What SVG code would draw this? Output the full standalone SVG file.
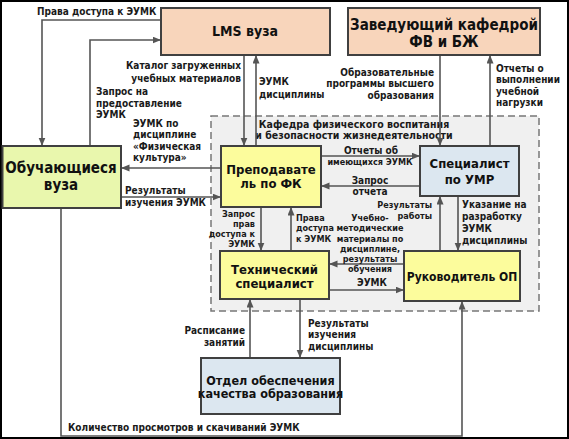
<svg xmlns="http://www.w3.org/2000/svg" width="569" height="439" viewBox="0 0 569 439">
<style>
.frame{fill:#ffffff;stroke:#000;stroke-width:2}
.box{stroke:#404040;stroke-width:2}
.peach{fill:#f8d5bb}
.green{fill:#e9f7ad}
.yellow{fill:#fcfc9c}
.blue{fill:#dce7f0}
.area{fill:#f0f0f0;stroke:#777;stroke-width:1.5;stroke-dasharray:7 4}
.c{fill:none;stroke:#555;stroke-width:1.6;marker-end:url(#a)}
text{font-family:"DejaVu Sans Condensed","DejaVu Sans",sans-serif;font-stretch:condensed;font-weight:bold;fill:#1a1a1a}
.l{font-size:10px}
.s{font-size:9px}
.h{font-size:10.5px;text-anchor:middle}
.t{font-size:13px;fill:#111;text-anchor:middle}
.e{text-anchor:end}
.m{text-anchor:middle}
</style>
<defs>
<marker id="a" markerUnits="userSpaceOnUse" markerWidth="9" markerHeight="8" refX="8.5" refY="3.5" orient="auto">
<path d="M0,0 L8.5,3.5 L0,7 z" fill="#555"/>
</marker>
</defs>
<rect class="frame" x="1" y="1" width="567" height="437"/>
<rect class="area" x="211" y="116" width="328" height="195"/>
<text class="h" x="354" y="127.5">Кафедра физического воспитания</text>
<text class="h" x="354" y="139">и безопасности жизнедеятельности</text>

<g id="connectors">
<path class="c" d="M161,20 H42 V146"/>
<path class="c" d="M90,146 V40 H161"/>
<path class="c" d="M244,55 V146"/>
<path class="c" d="M256,146 V55"/>
<path class="c" d="M221,168 H121"/>
<path class="c" d="M121,197 H221"/>
<path class="c" d="M440,55 V146"/>
<path class="c" d="M490,146 V55"/>
<path class="c" d="M321,156 H420"/>
<path class="c" d="M420,186 H321"/>
<path class="c" d="M261,207 V251"/>
<path class="c" d="M291,251 V207"/>
<path class="c" d="M404,264 H329"/>
<path class="c" d="M329,290 H404"/>
<path class="c" d="M440,251 V196"/>
<path class="c" d="M458,196 V251"/>
<path class="c" d="M250,358 V299"/>
<path class="c" d="M300,299 V358"/>
<path class="c" d="M61,208 V436 H462 V301"/>
<text class="l" x="37" y="14.5">Права доступа к ЭУМК</text>
<text class="l" x="96" y="95">Запрос на</text>
<text class="l" x="96" y="107">предоставление</text>
<text class="l" x="96" y="118">ЭУМК</text>
<text class="l e" x="241" y="69">Каталог загруженных</text>
<text class="l e" x="241" y="82">учебных материалов</text>
<text class="l" x="259" y="85">ЭУМК</text>
<text class="l" x="259" y="98">дисциплины</text>
<text class="l" x="133" y="127">ЭУМК по</text>
<text class="l" x="133" y="138">дисциплине</text>
<text class="l" x="133" y="150">«Физическая</text>
<text class="l" x="133" y="161">культура»</text>
<text class="l" x="125" y="194">Результаты</text>
<text class="l" x="125" y="206">изучения ЭУМК</text>
<text class="l e" x="434" y="76">Образовательные</text>
<text class="l e" x="434" y="87">программы высшего</text>
<text class="l e" x="434" y="99">образования</text>
<text class="l" x="496" y="72">Отчеты о</text>
<text class="l" x="496" y="83">выполнении</text>
<text class="l" x="496" y="95">учебной</text>
<text class="l" x="496" y="106">нагрузки</text>
<text class="l m" x="371" y="154">Отчеты об</text>
<text class="s m" x="370" y="165">имеющихся ЭУМК</text>
<text class="l m" x="370" y="184">Запрос</text>
<text class="l m" x="370" y="195">отчета</text>
<text class="s e" x="255" y="217">Запрос</text>
<text class="s e" x="255" y="227">прав</text>
<text class="s e" x="255" y="237">доступа к</text>
<text class="s e" x="255" y="247">ЭУМК</text>
<text class="s" x="296" y="221">Права</text>
<text class="s" x="296" y="231">доступа</text>
<text class="s" x="296" y="242">к ЭУМК</text>
<text class="s m" x="370" y="221">Учебно-</text>
<text class="s m" x="370" y="231">методические</text>
<text class="s m" x="370" y="242">материалы по</text>
<text class="s m" x="370" y="252">дисциплине,</text>
<text class="s m" x="370" y="262">результаты</text>
<text class="s m" x="370" y="272">обучения</text>
<text class="l m" x="372" y="286">ЭУМК</text>
<text class="s e" x="432" y="208">Результаты</text>
<text class="s e" x="432" y="219">работы</text>
<text class="l" x="462" y="208">Указание на</text>
<text class="l" x="462" y="220">разработку</text>
<text class="l" x="462" y="232">ЭУМК</text>
<text class="l" x="462" y="244">дисциплины</text>
<text class="l e" x="245" y="334">Расписание</text>
<text class="l e" x="245" y="346">занятий</text>
<text class="l" x="308" y="327">Результаты</text>
<text class="l" x="308" y="338">изучения</text>
<text class="l" x="308" y="350">дисциплины</text>
<text class="l" x="68" y="431">Количество просмотров и скачиваний ЭУМК</text>
</g>

<g id="lms">
<rect class="box peach" x="161" y="8" width="169" height="47"/>
<text class="t" x="245" y="36" style="font-size:14px">LMS вуза</text>
</g>
<g id="zaved">
<rect class="box peach" x="348" y="8" width="192" height="47"/>
<text class="t" x="444" y="30" style="font-size:15px">Заведующий кафедрой</text>
<text class="t" x="444" y="47" style="font-size:15px">ФВ и БЖ</text>
</g>
<g id="obuch">
<rect class="box green" x="2.5" y="146" width="118.5" height="62"/>
<text class="t" x="61" y="173" style="font-size:15px">Обучающиеся</text>
<text class="t" x="61" y="190" style="font-size:15px">вуза</text>
</g>
<g id="prepod">
<rect class="box yellow" x="221" y="146" width="100" height="61"/>
<text class="t" x="271" y="174">Преподавате</text>
<text class="t" x="271" y="188">ль по ФК</text>
</g>
<g id="umr">
<rect class="box blue" x="420" y="146" width="99" height="50"/>
<text class="t" x="469.5" y="168">Специалист</text>
<text class="t" x="469.5" y="184">по УМР</text>
</g>
<g id="tech">
<rect class="box yellow" x="220" y="251" width="109" height="48"/>
<text class="t" x="274.5" y="274">Технический</text>
<text class="t" x="274.5" y="288">специалист</text>
</g>
<g id="ruk">
<rect class="box yellow" x="404" y="251" width="116" height="50"/>
<text class="t" x="462" y="281" style="font-size:12px">Руководитель ОП</text>
</g>
<g id="otdel">
<rect class="box blue" x="201" y="358" width="139" height="56"/>
<text class="t" x="270.5" y="384.5" style="font-size:12.5px">Отдел обеспечения</text>
<text class="t" x="270.5" y="398" style="font-size:12.5px">качества образования</text>
</g>
</svg>
